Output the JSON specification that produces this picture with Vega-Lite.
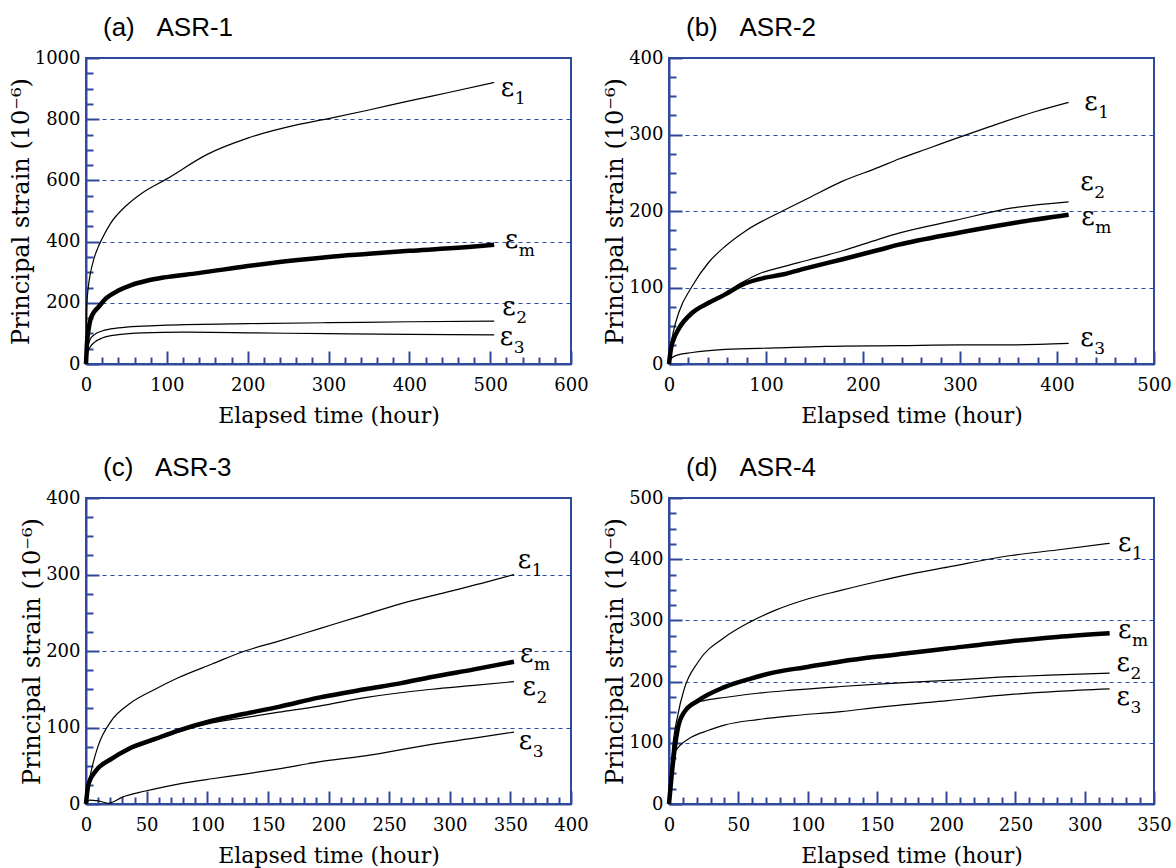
{
  "$schema": "https://vega.github.io/schema/vega-lite/v6.json",
  "padding": {"left": 8, "top": 14, "right": 3, "bottom": 3},
  "background": "white",
  "config": {
    "view": {"stroke": "#30499b", "strokeWidth": 2},
    "axis": {"domainColor": "#30499b", "domainWidth": 2, "tickColor": "#30499b", "tickWidth": 2, "labelFont": "DejaVu Serif", "labelFontSize": 18, "labelColor": "black", "titleFont": "DejaVu Serif", "titleFontSize": 22, "titleFontWeight": "normal", "titleColor": "black", "gridColor": "#2c47a8", "gridDash": [4, 4], "gridWidth": 1.1, "gridOpacity": 1, "labelFlush": false, "labelOverlap": false, "format": "d"},
    "axisX": {"titlePadding": 11},
    "axisY": {"titleFontSize": 24, "titlePadding": 1},
    "line": {"interpolate": "monotone", "color": "black"},
    "title": {"anchor": "start", "frame": "group", "font": "Liberation Sans", "fontSize": 26, "fontWeight": "normal", "color": "black", "dx": 17, "offset": 8}
  },
  "datasets": {
    "a": [
      {"t":0,"v":0,"s":"e1"},{"t":0.5,"v":150,"s":"e1"},{"t":1,"v":193,"s":"e1"},{"t":2,"v":230,"s":"e1"},{"t":3,"v":255,"s":"e1"},{"t":5,"v":290,"s":"e1"},{"t":10,"v":346,"s":"e1"},{"t":15,"v":382,"s":"e1"},{"t":20,"v":410,"s":"e1"},{"t":30,"v":458,"s":"e1"},{"t":50,"v":518,"s":"e1"},{"t":70,"v":560,"s":"e1"},{"t":100,"v":605,"s":"e1"},{"t":150,"v":685,"s":"e1"},{"t":200,"v":738,"s":"e1"},{"t":262,"v":782,"s":"e1"},{"t":300,"v":802,"s":"e1"},{"t":350,"v":830,"s":"e1"},{"t":400,"v":860,"s":"e1"},{"t":450,"v":888,"s":"e1"},{"t":505,"v":920,"s":"e1"},
      {"t":0,"v":0,"s":"em"},{"t":1,"v":60,"s":"em"},{"t":3,"v":110,"s":"em"},{"t":5,"v":140,"s":"em"},{"t":10,"v":170,"s":"em"},{"t":15,"v":185,"s":"em"},{"t":25,"v":215,"s":"em"},{"t":40,"v":240,"s":"em"},{"t":56,"v":258,"s":"em"},{"t":75,"v":272,"s":"em"},{"t":97,"v":283,"s":"em"},{"t":139,"v":297,"s":"em"},{"t":200,"v":320,"s":"em"},{"t":262,"v":340,"s":"em"},{"t":300,"v":350,"s":"em"},{"t":350,"v":360,"s":"em"},{"t":400,"v":370,"s":"em"},{"t":450,"v":378,"s":"em"},{"t":505,"v":390,"s":"em"},
      {"t":0,"v":0,"s":"e2"},{"t":1,"v":30,"s":"e2"},{"t":2,"v":50,"s":"e2"},{"t":5,"v":80,"s":"e2"},{"t":10,"v":95,"s":"e2"},{"t":20,"v":108,"s":"e2"},{"t":40,"v":118,"s":"e2"},{"t":70,"v":124,"s":"e2"},{"t":100,"v":127,"s":"e2"},{"t":200,"v":132,"s":"e2"},{"t":300,"v":135,"s":"e2"},{"t":400,"v":138,"s":"e2"},{"t":505,"v":140,"s":"e2"},
      {"t":0,"v":0,"s":"e3"},{"t":1,"v":20,"s":"e3"},{"t":2,"v":35,"s":"e3"},{"t":5,"v":55,"s":"e3"},{"t":10,"v":70,"s":"e3"},{"t":20,"v":85,"s":"e3"},{"t":40,"v":96,"s":"e3"},{"t":70,"v":102,"s":"e3"},{"t":120,"v":104,"s":"e3"},{"t":200,"v":102,"s":"e3"},{"t":300,"v":99,"s":"e3"},{"t":400,"v":97,"s":"e3"},{"t":505,"v":95,"s":"e3"}
    ],
    "b": [
      {"t":0,"v":0,"s":"e1"},{"t":2,"v":25,"s":"e1"},{"t":5,"v":45,"s":"e1"},{"t":10,"v":67,"s":"e1"},{"t":24,"v":102,"s":"e1"},{"t":41,"v":133,"s":"e1"},{"t":58,"v":154,"s":"e1"},{"t":79,"v":174,"s":"e1"},{"t":117,"v":200,"s":"e1"},{"t":144,"v":217,"s":"e1"},{"t":179,"v":239,"s":"e1"},{"t":216,"v":257,"s":"e1"},{"t":237,"v":268,"s":"e1"},{"t":270,"v":283,"s":"e1"},{"t":296,"v":295,"s":"e1"},{"t":330,"v":310,"s":"e1"},{"t":378,"v":330,"s":"e1"},{"t":412,"v":342,"s":"e1"},
      {"t":0,"v":0,"s":"em"},{"t":2,"v":20,"s":"em"},{"t":5,"v":33,"s":"em"},{"t":10,"v":46,"s":"em"},{"t":24,"v":67,"s":"em"},{"t":41,"v":80,"s":"em"},{"t":58,"v":91,"s":"em"},{"t":76,"v":104,"s":"em"},{"t":93,"v":111,"s":"em"},{"t":117,"v":117,"s":"em"},{"t":144,"v":126,"s":"em"},{"t":179,"v":137,"s":"em"},{"t":216,"v":149,"s":"em"},{"t":237,"v":156,"s":"em"},{"t":296,"v":171,"s":"em"},{"t":354,"v":184,"s":"em"},{"t":412,"v":195,"s":"em"},
      {"t":0,"v":0,"s":"e2"},{"t":2,"v":20,"s":"e2"},{"t":5,"v":33,"s":"e2"},{"t":10,"v":46,"s":"e2"},{"t":24,"v":67,"s":"e2"},{"t":41,"v":81,"s":"e2"},{"t":58,"v":93,"s":"e2"},{"t":76,"v":107,"s":"e2"},{"t":93,"v":118,"s":"e2"},{"t":117,"v":127,"s":"e2"},{"t":144,"v":136,"s":"e2"},{"t":179,"v":148,"s":"e2"},{"t":216,"v":163,"s":"e2"},{"t":237,"v":171,"s":"e2"},{"t":296,"v":188,"s":"e2"},{"t":354,"v":204,"s":"e2"},{"t":412,"v":212,"s":"e2"},
      {"t":0,"v":0,"s":"e3"},{"t":1,"v":5,"s":"e3"},{"t":3,"v":8,"s":"e3"},{"t":7,"v":11,"s":"e3"},{"t":24,"v":15,"s":"e3"},{"t":58,"v":19,"s":"e3"},{"t":110,"v":21,"s":"e3"},{"t":161,"v":23,"s":"e3"},{"t":237,"v":24,"s":"e3"},{"t":300,"v":25,"s":"e3"},{"t":350,"v":25,"s":"e3"},{"t":412,"v":27,"s":"e3"}
    ],
    "c": [
      {"t":0,"v":0,"s":"e1"},{"t":2,"v":25,"s":"e1"},{"t":5,"v":48,"s":"e1"},{"t":10,"v":76,"s":"e1"},{"t":21,"v":109,"s":"e1"},{"t":35,"v":130,"s":"e1"},{"t":57,"v":150,"s":"e1"},{"t":76,"v":165,"s":"e1"},{"t":104,"v":183,"s":"e1"},{"t":131,"v":200,"s":"e1"},{"t":159,"v":213,"s":"e1"},{"t":192,"v":229,"s":"e1"},{"t":225,"v":245,"s":"e1"},{"t":260,"v":262,"s":"e1"},{"t":300,"v":278,"s":"e1"},{"t":330,"v":290,"s":"e1"},{"t":353,"v":300,"s":"e1"},
      {"t":0,"v":0,"s":"em"},{"t":2,"v":26,"s":"em"},{"t":8,"v":43,"s":"em"},{"t":21,"v":59,"s":"em"},{"t":35,"v":72,"s":"em"},{"t":57,"v":85,"s":"em"},{"t":76,"v":96,"s":"em"},{"t":104,"v":109,"s":"em"},{"t":131,"v":118,"s":"em"},{"t":159,"v":127,"s":"em"},{"t":192,"v":139,"s":"em"},{"t":230,"v":150,"s":"em"},{"t":260,"v":158,"s":"em"},{"t":285,"v":166,"s":"em"},{"t":320,"v":176,"s":"em"},{"t":353,"v":186,"s":"em"},
      {"t":0,"v":0,"s":"e2"},{"t":2,"v":26,"s":"e2"},{"t":8,"v":43,"s":"e2"},{"t":21,"v":58,"s":"e2"},{"t":35,"v":70,"s":"e2"},{"t":57,"v":83,"s":"e2"},{"t":76,"v":94,"s":"e2"},{"t":104,"v":106,"s":"e2"},{"t":131,"v":113,"s":"e2"},{"t":159,"v":120,"s":"e2"},{"t":192,"v":128,"s":"e2"},{"t":230,"v":139,"s":"e2"},{"t":285,"v":150,"s":"e2"},{"t":320,"v":155,"s":"e2"},{"t":353,"v":160,"s":"e2"},
      {"t":0,"v":0,"s":"e3"},{"t":3,"v":5,"s":"e3"},{"t":10,"v":4,"s":"e3"},{"t":19,"v":1,"s":"e3"},{"t":30,"v":9,"s":"e3"},{"t":49,"v":17,"s":"e3"},{"t":76,"v":26,"s":"e3"},{"t":104,"v":33,"s":"e3"},{"t":131,"v":39,"s":"e3"},{"t":159,"v":46,"s":"e3"},{"t":192,"v":55,"s":"e3"},{"t":230,"v":63,"s":"e3"},{"t":285,"v":78,"s":"e3"},{"t":320,"v":86,"s":"e3"},{"t":353,"v":94,"s":"e3"}
    ],
    "d": [
      {"t":0,"v":0,"s":"e1"},{"t":2,"v":76,"s":"e1"},{"t":6.5,"v":147,"s":"e1"},{"t":11,"v":188,"s":"e1"},{"t":21,"v":232,"s":"e1"},{"t":40,"v":272,"s":"e1"},{"t":59,"v":298,"s":"e1"},{"t":76,"v":316,"s":"e1"},{"t":100,"v":335,"s":"e1"},{"t":124,"v":349,"s":"e1"},{"t":151,"v":364,"s":"e1"},{"t":175,"v":376,"s":"e1"},{"t":201,"v":387,"s":"e1"},{"t":247,"v":406,"s":"e1"},{"t":280,"v":415,"s":"e1"},{"t":318,"v":426,"s":"e1"},
      {"t":0,"v":0,"s":"em"},{"t":2,"v":49,"s":"em"},{"t":6.5,"v":125,"s":"em"},{"t":11,"v":150,"s":"em"},{"t":21,"v":169,"s":"em"},{"t":40,"v":191,"s":"em"},{"t":59,"v":205,"s":"em"},{"t":76,"v":215,"s":"em"},{"t":100,"v":224,"s":"em"},{"t":124,"v":233,"s":"em"},{"t":151,"v":241,"s":"em"},{"t":175,"v":247,"s":"em"},{"t":201,"v":254,"s":"em"},{"t":247,"v":266,"s":"em"},{"t":280,"v":273,"s":"em"},{"t":318,"v":279,"s":"em"},
      {"t":0,"v":0,"s":"e2"},{"t":2,"v":49,"s":"e2"},{"t":6.5,"v":125,"s":"e2"},{"t":11,"v":150,"s":"e2"},{"t":16,"v":162,"s":"e2"},{"t":28,"v":170,"s":"e2"},{"t":40,"v":174,"s":"e2"},{"t":64,"v":181,"s":"e2"},{"t":88,"v":186,"s":"e2"},{"t":124,"v":192,"s":"e2"},{"t":151,"v":196,"s":"e2"},{"t":201,"v":202,"s":"e2"},{"t":247,"v":208,"s":"e2"},{"t":280,"v":211,"s":"e2"},{"t":318,"v":214,"s":"e2"},
      {"t":0,"v":0,"s":"e3"},{"t":1,"v":40,"s":"e3"},{"t":3,"v":80,"s":"e3"},{"t":6.5,"v":92,"s":"e3"},{"t":16,"v":109,"s":"e3"},{"t":28,"v":120,"s":"e3"},{"t":40,"v":129,"s":"e3"},{"t":64,"v":138,"s":"e3"},{"t":88,"v":144,"s":"e3"},{"t":124,"v":151,"s":"e3"},{"t":151,"v":158,"s":"e3"},{"t":201,"v":169,"s":"e3"},{"t":247,"v":179,"s":"e3"},{"t":280,"v":184,"s":"e3"},{"t":318,"v":188,"s":"e3"}
    ],
    "labels": [
      {"p":"a","t":513,"v":876,"sub":"1"},{"p":"a","t":518,"v":378,"sub":"m"},{"p":"a","t":515,"v":160,"sub":"2"},{"p":"a","t":512,"v":62,"sub":"3"},
      {"p":"b","t":428,"v":332,"sub":"1"},{"p":"b","t":424,"v":227,"sub":"2"},{"p":"b","t":425,"v":182,"sub":"m"},{"p":"b","t":424,"v":23,"sub":"3"},
      {"p":"c","t":356,"v":309,"sub":"1"},{"p":"c","t":358,"v":185,"sub":"m"},{"p":"c","t":360,"v":143,"sub":"2"},{"p":"c","t":357,"v":72,"sub":"3"},
      {"p":"d","t":324,"v":414,"sub":"1"},{"p":"d","t":324,"v":272,"sub":"m"},{"p":"d","t":323,"v":218,"sub":"2"},{"p":"d","t":323,"v":161,"sub":"3"}
    ]
  },
  "columns": 2,
  "spacing": {"row": 134, "column": 98},
  "bounds": "flush",
  "concat": [
        {
          "width": 485, "height": 306,
          "title": {"text": "(a)\u00a0\u00a0\u00a0ASR-1"},
          "resolve": {"axis": {"x": "independent", "y": "independent"}},
          "layer": [
            {"data": {"name": "a"}, "mark": {"type": "line"},
             "encoding": {
               "x": {"field": "t", "type": "quantitative", "scale": {"domain": [0, 600], "nice": false}, "axis": {"values": [0,100,200,300,400,500,600], "tickSize": -13, "labelPadding": 25, "title": "Elapsed time (hour)", "grid": false}},
               "y": {"field": "v", "type": "quantitative", "scale": {"domain": [0, 1000], "nice": false}, "axis": {"values": [0,200,400,600,800,1000], "tickSize": -13, "labelPadding": 19, "title": "Principal strain (10\u207b\u2076)", "grid": true}},
               "detail": {"field": "s"},
               "strokeWidth": {"field": "s", "type": "nominal", "scale": {"type": "ordinal", "domain": ["e1","e2","e3","em"], "range": [1.2,1.2,1.2,4.5]}, "legend": null}
             }},
            {"data": {"name": "a"}, "mark": {"type": "point", "opacity": 0},
             "encoding": {
               "x": {"field": "t", "type": "quantitative", "axis": {"orient": "bottom", "values": [20,40,60,80,120,140,160,180,220,240,260,280,320,340,360,380,420,440,460,480,520,540,560,580], "tickSize": -7, "labels": false, "domain": false, "grid": false, "title": null}},
               "y": {"field": "v", "type": "quantitative", "axis": {"orient": "left", "values": [50,100,150,250,300,350,450,500,550,650,700,750,850,900,950], "tickSize": -7, "labels": false, "domain": false, "grid": false, "title": null}}
             }},
            {"data": {"name": "labels"}, "transform": [{"filter": "datum.p == 'a'"}],
             "mark": {"type": "text", "text": "\u03b5", "font": "DejaVu Serif", "fontSize": 26, "align": "left", "baseline": "alphabetic", "color": "black"},
             "encoding": {"x": {"field": "t", "type": "quantitative", "axis": null}, "y": {"field": "v", "type": "quantitative", "axis": null}}},
            {"data": {"name": "labels"}, "transform": [{"filter": "datum.p == 'a'"}],
             "mark": {"type": "text", "font": "DejaVu Serif", "fontSize": 17, "align": "left", "baseline": "alphabetic", "dx": 14, "dy": 8, "color": "black"},
             "encoding": {"x": {"field": "t", "type": "quantitative", "axis": null}, "y": {"field": "v", "type": "quantitative", "axis": null}, "text": {"field": "sub"}}}
          ]
        },
        {
          "width": 485, "height": 306,
          "title": {"text": "(b)\u00a0\u00a0\u00a0ASR-2"},
          "resolve": {"axis": {"x": "independent", "y": "independent"}},
          "layer": [
            {"data": {"name": "b"}, "mark": {"type": "line"},
             "encoding": {
               "x": {"field": "t", "type": "quantitative", "scale": {"domain": [0, 500], "nice": false}, "axis": {"values": [0,100,200,300,400,500], "tickSize": -13, "labelPadding": 25, "title": "Elapsed time (hour)", "grid": false}},
               "y": {"field": "v", "type": "quantitative", "scale": {"domain": [0, 400], "nice": false}, "axis": {"values": [0,100,200,300,400], "tickSize": -13, "labelPadding": 19, "title": "Principal strain (10\u207b\u2076)", "grid": true}},
               "detail": {"field": "s"},
               "strokeWidth": {"field": "s", "type": "nominal", "scale": {"type": "ordinal", "domain": ["e1","e2","e3","em"], "range": [1.2,1.2,1.2,4.5]}, "legend": null}
             }},
            {"data": {"name": "b"}, "mark": {"type": "point", "opacity": 0},
             "encoding": {
               "x": {"field": "t", "type": "quantitative", "axis": {"orient": "bottom", "values": [20,40,60,80,120,140,160,180,220,240,260,280,320,340,360,380,420,440,460,480], "tickSize": -7, "labels": false, "domain": false, "grid": false, "title": null}},
               "y": {"field": "v", "type": "quantitative", "axis": {"orient": "left", "values": [25,50,75,125,150,175,225,250,275,325,350,375], "tickSize": -7, "labels": false, "domain": false, "grid": false, "title": null}}
             }},
            {"data": {"name": "labels"}, "transform": [{"filter": "datum.p == 'b'"}],
             "mark": {"type": "text", "text": "\u03b5", "font": "DejaVu Serif", "fontSize": 26, "align": "left", "baseline": "alphabetic", "color": "black"},
             "encoding": {"x": {"field": "t", "type": "quantitative", "axis": null}, "y": {"field": "v", "type": "quantitative", "axis": null}}},
            {"data": {"name": "labels"}, "transform": [{"filter": "datum.p == 'b'"}],
             "mark": {"type": "text", "font": "DejaVu Serif", "fontSize": 17, "align": "left", "baseline": "alphabetic", "dx": 14, "dy": 8, "color": "black"},
             "encoding": {"x": {"field": "t", "type": "quantitative", "axis": null}, "y": {"field": "v", "type": "quantitative", "axis": null}, "text": {"field": "sub"}}}
          ]
        },
        {
          "width": 485, "height": 306,
          "title": {"text": "(c)\u00a0\u00a0\u00a0ASR-3"},
          "resolve": {"axis": {"x": "independent", "y": "independent"}},
          "layer": [
            {"data": {"name": "c"}, "mark": {"type": "line"},
             "encoding": {
               "x": {"field": "t", "type": "quantitative", "scale": {"domain": [0, 400], "nice": false}, "axis": {"values": [0,50,100,150,200,250,300,350,400], "tickSize": -13, "labelPadding": 25, "title": "Elapsed time (hour)", "grid": false}},
               "y": {"field": "v", "type": "quantitative", "scale": {"domain": [0, 400], "nice": false}, "axis": {"values": [0,100,200,300,400], "tickSize": -13, "labelPadding": 19, "title": "Principal strain (10\u207b\u2076)", "grid": true}},
               "detail": {"field": "s"},
               "strokeWidth": {"field": "s", "type": "nominal", "scale": {"type": "ordinal", "domain": ["e1","e2","e3","em"], "range": [1.2,1.2,1.2,4.5]}, "legend": null}
             }},
            {"data": {"name": "c"}, "mark": {"type": "point", "opacity": 0},
             "encoding": {
               "x": {"field": "t", "type": "quantitative", "axis": {"orient": "bottom", "values": [10,20,30,40,60,70,80,90,110,120,130,140,160,170,180,190,210,220,230,240,260,270,280,290,310,320,330,340,360,370,380,390], "tickSize": -7, "labels": false, "domain": false, "grid": false, "title": null}},
               "y": {"field": "v", "type": "quantitative", "axis": {"orient": "left", "values": [25,50,75,125,150,175,225,250,275,325,350,375], "tickSize": -7, "labels": false, "domain": false, "grid": false, "title": null}}
             }},
            {"data": {"name": "labels"}, "transform": [{"filter": "datum.p == 'c'"}],
             "mark": {"type": "text", "text": "\u03b5", "font": "DejaVu Serif", "fontSize": 26, "align": "left", "baseline": "alphabetic", "color": "black"},
             "encoding": {"x": {"field": "t", "type": "quantitative", "axis": null}, "y": {"field": "v", "type": "quantitative", "axis": null}}},
            {"data": {"name": "labels"}, "transform": [{"filter": "datum.p == 'c'"}],
             "mark": {"type": "text", "font": "DejaVu Serif", "fontSize": 17, "align": "left", "baseline": "alphabetic", "dx": 14, "dy": 8, "color": "black"},
             "encoding": {"x": {"field": "t", "type": "quantitative", "axis": null}, "y": {"field": "v", "type": "quantitative", "axis": null}, "text": {"field": "sub"}}}
          ]
        },
        {
          "width": 485, "height": 306,
          "title": {"text": "(d)\u00a0\u00a0\u00a0ASR-4"},
          "resolve": {"axis": {"x": "independent", "y": "independent"}},
          "layer": [
            {"data": {"name": "d"}, "mark": {"type": "line"},
             "encoding": {
               "x": {"field": "t", "type": "quantitative", "scale": {"domain": [0, 350], "nice": false}, "axis": {"values": [0,50,100,150,200,250,300,350], "tickSize": -13, "labelPadding": 25, "title": "Elapsed time (hour)", "grid": false}},
               "y": {"field": "v", "type": "quantitative", "scale": {"domain": [0, 500], "nice": false}, "axis": {"values": [0,100,200,300,400,500], "tickSize": -13, "labelPadding": 19, "title": "Principal strain (10\u207b\u2076)", "grid": true}},
               "detail": {"field": "s"},
               "strokeWidth": {"field": "s", "type": "nominal", "scale": {"type": "ordinal", "domain": ["e1","e2","e3","em"], "range": [1.2,1.2,1.2,4.5]}, "legend": null}
             }},
            {"data": {"name": "d"}, "mark": {"type": "point", "opacity": 0},
             "encoding": {
               "x": {"field": "t", "type": "quantitative", "axis": {"orient": "bottom", "values": [10,20,30,40,60,70,80,90,110,120,130,140,160,170,180,190,210,220,230,240,260,270,280,290,310,320,330,340], "tickSize": -7, "labels": false, "domain": false, "grid": false, "title": null}},
               "y": {"field": "v", "type": "quantitative", "axis": {"orient": "left", "values": [25,50,75,125,150,175,225,250,275,325,350,375,425,450,475], "tickSize": -7, "labels": false, "domain": false, "grid": false, "title": null}}
             }},
            {"data": {"name": "labels"}, "transform": [{"filter": "datum.p == 'd'"}],
             "mark": {"type": "text", "text": "\u03b5", "font": "DejaVu Serif", "fontSize": 26, "align": "left", "baseline": "alphabetic", "color": "black"},
             "encoding": {"x": {"field": "t", "type": "quantitative", "axis": null}, "y": {"field": "v", "type": "quantitative", "axis": null}}},
            {"data": {"name": "labels"}, "transform": [{"filter": "datum.p == 'd'"}],
             "mark": {"type": "text", "font": "DejaVu Serif", "fontSize": 17, "align": "left", "baseline": "alphabetic", "dx": 14, "dy": 8, "color": "black"},
             "encoding": {"x": {"field": "t", "type": "quantitative", "axis": null}, "y": {"field": "v", "type": "quantitative", "axis": null}, "text": {"field": "sub"}}}
          ]
        }
  ]
}
